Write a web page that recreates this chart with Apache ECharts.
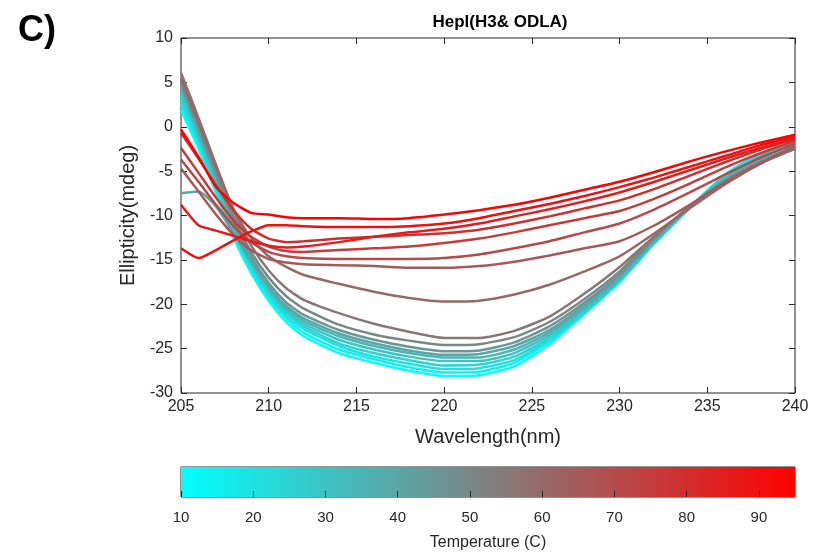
<!DOCTYPE html>
<html>
<head>
<meta charset="utf-8">
<script src="https://cdn.jsdelivr.net/npm/echarts@6/dist/echarts.min.js"></script>
<style>
html,body{margin:0;padding:0;background:#fff;}
#chart{width:813px;height:554px;}
</style>
</head>
<body>
<div id="chart"></div>
<script>
const wavelengths = [205,206,207,208,209,210,211,212,214,216,218,220,222,224,226,228,230,232,234,236,238,240];
const temperatures = [10,15,20,25,30,35,40,45,50,55,60,65,70,75,80,85,90,95];
const xTicks = [205,210,215,220,225,230,235,240];
const colorbarTicks = [10,20,30,40,50,60,70,80,90];

const t10 = [1.9,-2.5,-7.5,-12.5,-16.5,-19.6,-22.0,-23.6,-25.5,-26.6,-27.5,-28.1,-28.0,-27.0,-24.5,-21.1,-17.5,-13.1,-9.1,-5.4,-3.0,-1.8];
const t15 = [2.5,-2.0,-7.1,-12.2,-16.2,-19.3,-21.6,-23.2,-25.1,-26.2,-27.1,-27.7,-27.6,-26.6,-24.2,-21.0,-17.4,-13.1,-9.1,-5.5,-3.1,-1.8];
const t20 = [3.0,-1.7,-6.8,-11.9,-15.9,-19.0,-21.3,-22.8,-24.7,-25.9,-26.7,-27.3,-27.2,-26.3,-24.0,-20.9,-17.4,-13.1,-9.1,-5.6,-3.2,-1.9];
const t25 = [3.5,-1.3,-6.5,-11.6,-15.6,-18.7,-21.0,-22.5,-24.4,-25.5,-26.3,-26.9,-26.8,-25.9,-23.8,-20.8,-17.3,-13.0,-9.1,-5.7,-3.4,-2.0];
const t30 = [4.0,-1.0,-6.2,-11.3,-15.3,-18.4,-20.7,-22.2,-24.0,-25.1,-25.9,-26.4,-26.4,-25.5,-23.5,-20.6,-17.2,-12.9,-9.1,-5.8,-3.6,-2.1];
const t35 = [4.5,-0.6,-5.8,-11.0,-15.0,-18.1,-20.4,-21.9,-23.6,-24.7,-25.5,-26.0,-26.0,-25.1,-23.2,-20.4,-17.0,-12.8,-9.1,-5.9,-3.8,-2.2];
const t40 = [-7.5,-7.3,-9.0,-12.0,-15.2,-18.0,-20.2,-21.6,-23.3,-24.4,-25.2,-25.7,-25.6,-24.7,-22.9,-20.1,-16.8,-12.7,-9.0,-6.0,-3.9,-2.3];
const t45 = [4.8,-0.3,-5.4,-10.6,-14.6,-17.6,-19.8,-21.2,-22.9,-24.0,-24.8,-25.3,-25.2,-24.3,-22.5,-19.8,-16.6,-12.6,-9.0,-6.1,-4.0,-2.4];
const t50 = [5.2,0.2,-5.0,-10.1,-14.1,-17.0,-19.1,-20.5,-22.3,-23.4,-24.1,-24.6,-24.5,-23.7,-22.0,-19.4,-16.3,-12.4,-9.0,-6.2,-4.1,-2.5];
const t55 = [6.1,1.0,-4.3,-9.5,-13.4,-16.2,-18.2,-19.5,-21.0,-22.2,-23.1,-23.8,-23.8,-23.0,-21.4,-18.8,-15.8,-12.3,-9.0,-6.2,-4.1,-2.5];
const t60 = [5.5,0.5,-4.5,-9.3,-12.6,-14.6,-15.8,-16.7,-17.7,-18.6,-19.3,-19.7,-19.6,-18.9,-17.8,-16.3,-14.6,-12.0,-9.2,-6.5,-4.2,-2.4];
const t65 = [-4.7,-7.3,-9.9,-12.2,-13.9,-14.9,-15.3,-15.5,-15.6,-15.7,-15.9,-15.9,-15.7,-15.2,-14.5,-13.7,-12.9,-11.1,-8.8,-6.3,-4.1,-2.2];
const t70 = [-3.7,-6.2,-8.8,-11.2,-13.0,-14.1,-14.6,-14.8,-14.9,-14.9,-14.9,-14.8,-14.4,-13.7,-12.9,-11.9,-10.9,-9.3,-7.4,-5.4,-3.5,-1.9];
const t75 = [-2.4,-5.2,-8.0,-10.6,-12.4,-13.5,-14.0,-14.1,-13.9,-13.7,-13.5,-13.1,-12.6,-11.9,-11.1,-10.3,-9.5,-8.1,-6.4,-4.6,-3.0,-1.6];
const t80 = [-0.7,-3.6,-6.6,-9.4,-11.5,-12.6,-13.0,-12.9,-12.6,-12.4,-12.2,-12.0,-11.6,-10.9,-10.1,-9.2,-8.3,-7.0,-5.5,-4.0,-2.6,-1.4];
const t85 = [-8.8,-11.1,-11.7,-12.3,-12.9,-13.4,-13.6,-13.5,-13.0,-12.4,-11.9,-11.5,-10.9,-10.1,-9.3,-8.4,-7.4,-6.2,-4.9,-3.6,-2.4,-1.3];
const t90 = [-13.7,-14.8,-13.9,-12.8,-11.8,-11.1,-11.1,-11.2,-11.3,-11.3,-11.2,-10.9,-10.3,-9.5,-8.7,-7.8,-6.8,-5.7,-4.5,-3.3,-2.1,-1.1];
const t95 = [-0.3,-3.4,-6.8,-8.6,-9.7,-9.9,-10.2,-10.3,-10.3,-10.4,-10.3,-9.9,-9.4,-8.8,-8.0,-7.1,-6.2,-5.1,-3.9,-2.8,-1.8,-0.9];

const curves = [t10,t15,t20,t25,t30,t35,t40,t45,t50,t55,t60,t65,t70,t75,t80,t85,t90,t95];

const tMin = 10, tMax = 95;
const cCyan = [0,255,255], cGray = [128,128,128], cRed = [255,0,0];
function tempColor(T){
  const t = (T - tMin) / (tMax - tMin);
  let a, b, f;
  if (t < 0.5) { a = cCyan; b = cGray; f = t * 2; } else { a = cGray; b = cRed; f = (t - 0.5) * 2; }
  const c = a.map((v,i)=>Math.round(v + (b[i]-v)*f));
  return 'rgb(' + c.join(',') + ')';
}

const axisColor = '#262626';
const font = 'Liberation Sans';

const lineSeries = curves.map((arr, k) => ({
  type: 'line',
  xAxisIndex: 0,
  yAxisIndex: 0,
  data: wavelengths.map((w, i) => [w, arr[i]]),
  showSymbol: false,
  smooth: 0.2,
  lineStyle: { width: 2.5, color: tempColor(temperatures[k]) },
  itemStyle: { color: tempColor(temperatures[k]) },
  z: 2 + k,
  silent: true
}));

const chart = echarts.init(document.getElementById('chart'), null, {renderer: 'canvas'});
chart.setOption({
  animation: false,
  backgroundColor: '#ffffff',
  textStyle: { fontFamily: font },
  title: [
    { text: 'Hepl(H3& ODLA)', left: 495, top: 9, textAlign: 'center',
      textStyle: { fontFamily: font, fontWeight: 'bold', fontSize: 17, color: '#000' } },
    { text: 'C)', left: 13, top: 8,
      textStyle: { fontFamily: font, fontWeight: 'bold', fontSize: 36, color: '#000' } }
  ],
  grid: [
    { left: 181, right: 18, top: 38, height: 355, show: true, borderColor: axisColor, borderWidth: 1, backgroundColor: 'transparent' },
    { left: 181, right: 18, top: 467, height: 30, show: true, borderColor: axisColor, borderWidth: 1, backgroundColor: 'transparent' }
  ],
  xAxis: [
    { type: 'value', gridIndex: 0, min: 205, max: 240, interval: 5, position: 'bottom',
      name: 'Wavelength(nm)', nameLocation: 'middle', nameGap: 34,
      nameTextStyle: { fontFamily: font, fontSize: 20, color: axisColor },
      axisLine: { show: false, onZero: false },
      axisTick: { show: true, inside: true, length: 6, lineStyle: { color: axisColor } },
      axisLabel: { fontFamily: font, fontSize: 16, color: axisColor, margin: 6 },
      splitLine: { show: false } },
    { type: 'value', gridIndex: 0, min: 205, max: 240, interval: 5, position: 'top',
      axisLine: { show: false, onZero: false },
      axisTick: { show: true, inside: true, length: 6, lineStyle: { color: axisColor } },
      axisLabel: { show: false }, splitLine: { show: false } },
    { type: 'value', gridIndex: 1, min: 10, max: 95, interval: 10, position: 'bottom',
      name: 'Temperature (C)', nameLocation: 'middle', nameGap: 38,
      nameTextStyle: { fontFamily: font, fontSize: 16, color: axisColor },
      axisLine: { show: false, onZero: false },
      axisTick: { show: true, inside: true, length: 6, lineStyle: { color: axisColor } },
      axisLabel: { fontFamily: font, fontSize: 15, color: axisColor, margin: 13, showMaxLabel: false },
      splitLine: { show: false } }
  ],
  yAxis: [
    { type: 'value', gridIndex: 0, min: -30, max: 10, interval: 5, position: 'left',
      name: 'Ellipticity(mdeg)', nameLocation: 'middle', nameGap: 38, nameRotate: 90,
      nameTextStyle: { fontFamily: font, fontSize: 20, color: axisColor },
      axisLine: { show: false, onZero: false },
      axisTick: { show: true, inside: true, length: 6, lineStyle: { color: axisColor } },
      axisLabel: { fontFamily: font, fontSize: 16, color: axisColor, margin: 8 },
      splitLine: { show: false } },
    { type: 'value', gridIndex: 0, min: -30, max: 10, interval: 5, position: 'right',
      axisLine: { show: false, onZero: false },
      axisTick: { show: true, inside: true, length: 6, lineStyle: { color: axisColor } },
      axisLabel: { show: false }, splitLine: { show: false } },
    { type: 'value', gridIndex: 1, min: 0, max: 1, show: false }
  ],
  series: lineSeries.concat([{
    type: 'custom',
    xAxisIndex: 2,
    yAxisIndex: 2,
    silent: true,
    z: 0,
    data: [[tMin, 0]],
    renderItem: function(params, api){
      const p0 = api.coord([tMin, 0]);
      const p1 = api.coord([tMax, 1]);
      return {
        type: 'rect',
        shape: { x: p0[0], y: p1[1], width: p1[0]-p0[0], height: p0[1]-p1[1] },
        style: { fill: new echarts.graphic.LinearGradient(0,0,1,0,[
          {offset:0,color:'rgb(0,255,255)'},
          {offset:0.5,color:'rgb(128,128,128)'},
          {offset:1,color:'rgb(255,0,0)'}]) }
      };
    }
  }])
});
</script>
</body>
</html>
